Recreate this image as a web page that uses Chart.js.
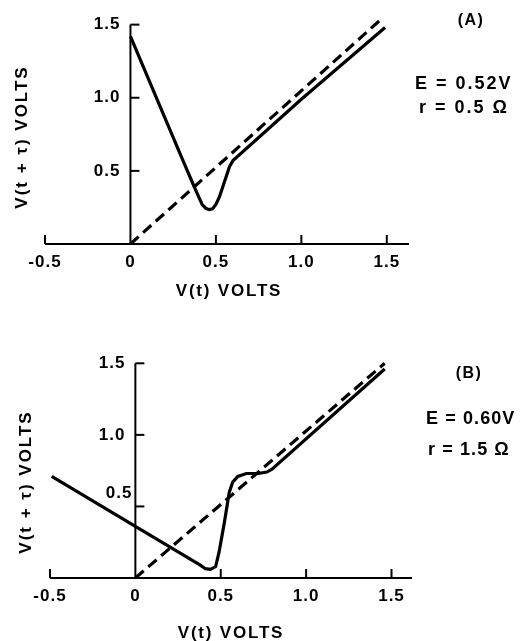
<!DOCTYPE html>
<html lang="en">
<head>
<meta charset="UTF-8">
<title>V(t + τ) vs V(t)</title>
<script src="https://cdn.jsdelivr.net/npm/chart.js"></script>
<style>
  body { margin: 0; background: #fff; color: #000;
         font-family: "Liberation Sans", Arial, sans-serif; font-weight: bold; }
  .wrap { position: relative; width: 520px; height: 641px; overflow: hidden; }
  canvas { position: absolute; left: 0; }
  #chartA { top: 0; }
  #chartB { top: 320px; }
  .txt { position: absolute; white-space: nowrap; line-height: 1; }
  .xtitle { font-size: 17px; letter-spacing: 1.8px; transform: translate(-50%, -50%); }
  .ytitle { font-size: 17px; letter-spacing: 2px; transform: translate(-50%, -50%) rotate(-90deg); }
  .tag { font-size: 16px; letter-spacing: 1.5px; transform: translate(-50%, -50%); }
  .param { font-size: 18px; letter-spacing: 2px; transform: translateY(-50%); }
  .paramB { letter-spacing: 1.1px; }
</style>
</head>
<body>
<div class="wrap">
  <canvas id="chartA" width="520" height="320"></canvas>
  <canvas id="chartB" width="520" height="321"></canvas>

  <div class="txt xtitle" style="left:229px; top:290px;">V(t) VOLTS</div>
  <div class="txt ytitle" style="left:21px; top:137px;">V(t + τ) VOLTS</div>
  <div class="txt tag" style="left:471px; top:20px;">(A)</div>
  <div class="txt param" style="left:415px; top:83px;">E = 0.52V</div>
  <div class="txt param" style="left:419px; top:107px;">r = 0.5 Ω</div>

  <div class="txt xtitle" style="left:231px; top:632px;">V(t) VOLTS</div>
  <div class="txt ytitle" style="left:25px; top:482px;">V(t + τ) VOLTS</div>
  <div class="txt tag" style="left:469px; top:373px;">(B)</div>
  <div class="txt param paramB" style="left:426px; top:418px;">E = 0.60V</div>
  <div class="txt param paramB" style="left:428px; top:449px;">r = 1.5 Ω</div>
</div>

<script>
  // axis ticks
  const xTicks = [-0.5, 0, 0.5, 1.0, 1.5];
  const xTickLabels = ['-0.5', '0', '0.5', '1.0', '1.5'];
  const yTicks = [0.5, 1.0, 1.5];
  const yTickLabels = ['0.5', '1.0', '1.5'];

  // panel A  (E = 0.52V, r = 0.5 ohm)
  const aSolidX = [0, 0.30, 0.37, 0.40, 0.42, 0.44, 0.46, 0.48, 0.50, 0.52, 0.54, 0.56, 0.58, 0.60, 1.00, 1.49];
  const aSolidY = [1.42, 0.59, 0.40, 0.32, 0.27, 0.245, 0.235, 0.24, 0.27, 0.32, 0.39, 0.46, 0.53, 0.57, 0.99, 1.48];
  const aDashX = [0, 1.47];
  const aDashY = [0, 1.54];

  // panel B  (E = 0.60V, r = 1.5 ohm)
  const bSolidX = [-0.49, 0, 0.38, 0.41, 0.44, 0.47, 0.49, 0.52, 0.55, 0.57, 0.60, 0.65, 0.72, 0.77, 0.80, 1.46];
  const bSolidY = [0.71, 0.36, 0.09, 0.065, 0.06, 0.08, 0.18, 0.38, 0.60, 0.67, 0.71, 0.73, 0.73, 0.74, 0.76, 1.46];
  const bDashX = [0, 1.46];
  const bDashY = [0, 1.50];

  const zip = (xs, ys) => xs.map((x, i) => ({ x: x, y: ys[i] }));

  // hand-drawn looking axes: x axis through y=0, y axis through x=0, ticks pointing inward
  const handAxes = {
    id: 'handAxes',
    beforeDatasetsDraw(chart, args, opts) {
      const ctx = chart.ctx;
      const x = chart.scales.x, y = chart.scales.y;
      const x0 = x.getPixelForValue(0), y0 = y.getPixelForValue(0);
      const seg = (a, b, c, d) => { ctx.beginPath(); ctx.moveTo(a, b); ctx.lineTo(c, d); ctx.stroke(); };
      ctx.save();
      ctx.strokeStyle = '#000';
      ctx.lineWidth = 2;
      seg(x.left, y0, x.right, y0);
      seg(x0, y0 + 1, x0, y.getPixelForValue(yTicks[yTicks.length - 1]));
      xTicks.forEach(v => {
        if (v === 0) return;
        const px = x.getPixelForValue(v);
        seg(px, y0, px, y0 - 9);
      });
      yTicks.forEach(v => {
        const py = y.getPixelForValue(v);
        seg(x0, py, x0 + 9, py);
      });

      ctx.fillStyle = '#000';
      ctx.font = 'bold 17px "Liberation Sans", Arial, sans-serif';
      if ('letterSpacing' in ctx) ctx.letterSpacing = '1px';
      ctx.textBaseline = 'middle';
      ctx.textAlign = 'center';
      xTicks.forEach((v, i) => {
        ctx.fillText(xTickLabels[i], x.getPixelForValue(v), y0 + 18);
      });
      ctx.textAlign = 'right';
      const shift = opts.yLabelShift || {};
      yTicks.forEach((v, i) => {
        const s = shift[yTickLabels[i]] || [0, 0];
        ctx.fillText(yTickLabels[i], x0 - 10 + s[0], y.getPixelForValue(v) + s[1]);
      });
      ctx.restore();
    }
  };

  function makeChart(id, solid, dash, padding, xMax, shift) {
    return new Chart(document.getElementById(id).getContext('2d'), {
      type: 'line',
      data: {
        datasets: [{
          data: solid,
          borderColor: '#000',
          borderWidth: 3.2,
          pointRadius: 0,
          tension: 0,
          fill: false
        }, {
          data: dash,
          borderColor: '#000',
          borderWidth: 3.2,
          borderDash: [11, 6],
          pointRadius: 0,
          tension: 0,
          fill: false
        }]
      },
      options: {
        responsive: false,
        animation: false,
        devicePixelRatio: 1,
        layout: { padding: padding },
        scales: {
          x: { type: 'linear', min: -0.5, max: xMax, display: false },
          y: { type: 'linear', min: 0, max: 1.6, display: false }
        },
        plugins: {
          legend: { display: false },
          tooltip: { enabled: false },
          handAxes: { yLabelShift: shift }
        }
      },
      plugins: [handAxes]
    });
  }

  makeChart('chartA', zip(aSolidX, aSolidY), zip(aDashX, aDashY),
            { left: 45, right: 111, top: 10, bottom: 76 }, 1.63, {});
  makeChart('chartB', zip(bSolidX, bSolidY), zip(bDashX, bDashY),
            { left: 50, right: 108, top: 29, bottom: 63 }, 1.62, { '0.5': [7, -13] });
</script>
</body>
</html>
